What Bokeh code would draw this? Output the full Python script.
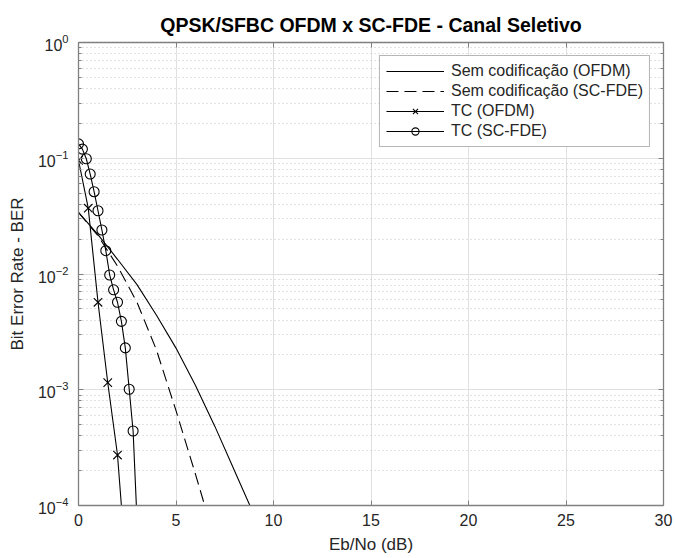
from bokeh.plotting import figure
from bokeh.models import (LogAxis, LinearAxis, Legend, LegendItem, FixedTicker,
                          LogTicker, CustomJSTickFormatter, Range1d)
from bokeh.embed import file_html
from bokeh.resources import INLINE

# ---------------- data ----------------
x_ticks = [0, 5, 10, 15, 20, 25, 30]

ebno_uncoded_ofdm = [0, 1, 2, 3, 4, 5, 6, 7, 8, 9]
ber_uncoded_ofdm = [0.034, 0.0219, 0.0134, 0.0081, 0.0044, 0.00229, 0.00109,
                    4.8e-4, 2.0e-4, 8.3e-5]

ebno_uncoded_scfde = [0, 1, 2, 3, 4, 5, 6, 7]
ber_uncoded_scfde = [0.034, 0.0214, 0.0117, 0.0057, 0.0022, 6.6e-4, 1.86e-4, 5e-5]

ebno_tc_ofdm = [0, 0.5, 1.0, 1.5, 2.0, 2.5]
ber_tc_ofdm = [0.096, 0.037, 0.0057, 0.00115, 2.73e-4, 2.2e-5]

ebno_tc_scfde = [0, 0.2, 0.4, 0.6, 0.8, 1.0, 1.2, 1.4, 1.6, 1.8, 2.0, 2.2, 2.4,
                 2.6, 2.8, 3.0]
ber_tc_scfde = [0.133, 0.12, 0.099, 0.073, 0.0514, 0.0352, 0.024, 0.0159, 0.0098,
                0.0073, 0.0057, 0.0039, 0.0023, 0.00101, 0.00044, 7.5e-5]

labels = ["Sem codificação (OFDM)", "Sem codificação (SC-FDE)", "TC (OFDM)", "TC (SC-FDE)"]

# ---------------- figure ----------------
FONT = "Liberation Sans"
AX = "#808080"
TXT = "#262626"

p = figure(width=675, height=558, x_range=Range1d(0, 30), y_range=Range1d(1e-4, 1),
           y_axis_type="log", output_backend="svg", toolbar_location=None,
           min_border_left=78, min_border_right=12, min_border_top=42,
           min_border_bottom=53)

p.title.text = "QPSK/SFBC OFDM x SC-FDE - Canal Seletivo"
p.title.align = "center"
p.title.text_font = FONT
p.title.text_font_size = "19.5px"
p.title.text_font_style = "bold"
p.title.text_color = "#000000"
p.title.standoff = 13

p.outline_line_color = None
p.background_fill_color = "white"

# main axes
xa = p.xaxis[0]
ya = p.yaxis[0]
xa.ticker = FixedTicker(ticks=x_ticks)
xa.axis_label = "Eb/No (dB)"
ya.axis_label = "Bit Error Rate - BER"
for ax in (xa, ya):
    ax.axis_line_color = AX
    ax.axis_line_width = 1.3
    ax.major_tick_line_color = AX
    ax.minor_tick_line_color = AX
    ax.major_tick_in = 5
    ax.major_tick_out = 0
    ax.minor_tick_in = 3
    ax.minor_tick_out = 0
    ax.major_label_text_font = FONT
    ax.major_label_text_font_size = "16px"
    ax.major_label_text_color = TXT
    ax.axis_label_text_font = FONT
    ax.axis_label_text_font_size = "17px"
    ax.axis_label_text_font_style = "normal"
    ax.axis_label_text_color = TXT
xa.minor_tick_in = 0
xa.major_label_standoff = 8
xa.axis_label_standoff = 6
ya.major_label_standoff = 10
ya.axis_label_standoff = 8

# mirrored axes (box with ticks)
top = LinearAxis(ticker=FixedTicker(ticks=x_ticks),
                 formatter=CustomJSTickFormatter(code="return ''"))
right = LogAxis(ticker=LogTicker(),
                formatter=CustomJSTickFormatter(code="return ''"))
for ax in (top, right):
    ax.axis_line_color = AX
    ax.axis_line_width = 1.3
    ax.major_tick_line_color = AX
    ax.minor_tick_line_color = AX
    ax.major_tick_in = 5
    ax.major_tick_out = 0
    ax.minor_tick_in = 3
    ax.minor_tick_out = 0
    ax.major_label_standoff = 0
    ax.major_label_text_font_size = "1px"
top.minor_tick_in = 0
p.add_layout(top, "above")
p.add_layout(right, "right")

# grids
p.xgrid.ticker = FixedTicker(ticks=x_ticks)
p.xgrid.grid_line_color = "#e0e0e0"
p.ygrid.grid_line_color = "#e0e0e0"
p.ygrid.minor_grid_line_color = "#c4c4c4"
p.ygrid.minor_grid_line_dash = "1 3"

# ---------------- data renderers ----------------
r1 = p.line(ebno_uncoded_ofdm, ber_uncoded_ofdm, line_color="black", line_width=1.1)
r2 = p.line(ebno_uncoded_scfde, ber_uncoded_scfde, line_color="black", line_width=1.1,
            line_dash="12 6")
r3l = p.line(ebno_tc_ofdm, ber_tc_ofdm, line_color="black", line_width=1.1)
r3m = p.scatter(ebno_tc_ofdm, ber_tc_ofdm, marker="x", size=12, line_color="black",
                line_width=1.1)
r4l = p.line(ebno_tc_scfde, ber_tc_scfde, line_color="black", line_width=1.1)
r4m = p.scatter(ebno_tc_scfde, ber_tc_scfde, marker="circle", size=10,
                line_color="black", fill_color=None, line_width=1.1)

legend = Legend(items=[
    LegendItem(label=labels[0], renderers=[r1]),
    LegendItem(label=labels[1], renderers=[r2]),
    LegendItem(label=labels[2], renderers=[r3l, r3m]),
    LegendItem(label=labels[3], renderers=[r4l, r4m]),
], location="top_right")
legend.margin = 13
legend.padding = 6
legend.spacing = 2
legend.glyph_width = 58
legend.glyph_height = 18
legend.label_height = 18
legend.label_standoff = 7
legend.label_text_font = FONT
legend.label_text_font_size = "16px"
legend.label_text_color = TXT
legend.border_line_color = "#6e6e6e"
legend.border_line_width = 1
legend.background_fill_color = "white"
legend.background_fill_alpha = 1
p.add_layout(legend)

open("out.html", "w").write(file_html(p, INLINE))
